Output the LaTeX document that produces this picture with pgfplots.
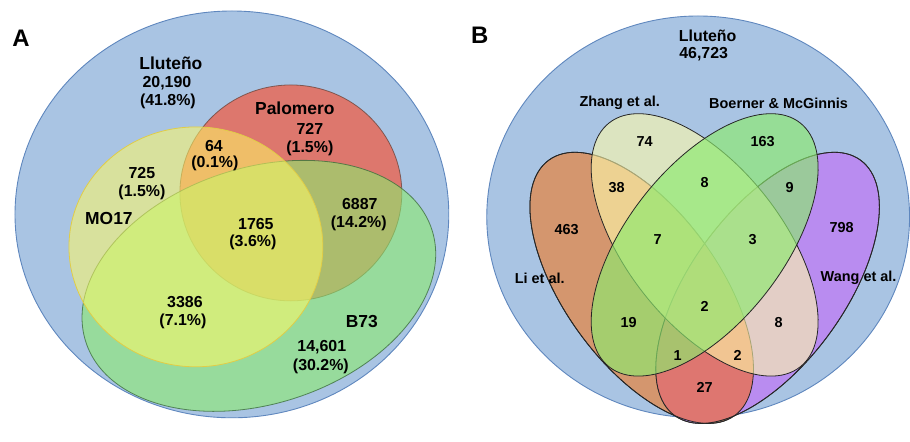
\documentclass[border=0pt]{standalone}
\usepackage{pgfplots}
\pgfplotsset{compat=1.18}
\usepackage{pgfplotstable}
\usepackage{fontspec}
\setmainfont{Liberation Sans}
\definecolor{bgblue}{RGB}{169,196,227}
\definecolor{bgline}{RGB}{95,135,190}
\definecolor{palred}{RGB}{235,100,80}
\definecolor{palline}{RGB}{110,70,60}
\definecolor{bgreen}{RGB}{140,235,110}
\definecolor{bgreenline}{RGB}{60,110,60}
\definecolor{myellow}{RGB}{255,250,100}
\definecolor{myellowline}{RGB}{225,205,70}
\definecolor{liorange}{RGB}{212,150,110}
\definecolor{wangpurple}{RGB}{185,140,240}
\definecolor{liwangred}{RGB}{222,118,112}
\definecolor{zhangpale}{RGB}{255,250,170}
\definecolor{boerngreen}{RGB}{140,235,110}

\pgfplotstableread[col sep=semicolon]{
x;y;label
171;358;Lluteño
295;313;Palomero
109;202;MO17
362;99;B73
}\Anames
\pgfplotstableread[col sep=semicolon]{
x;y;label
167;338;20,190
168;320;(41.8\%)
310;292;727
310;273;(1.5\%)
214;275;64
215;258;(0.1\%)
142;248;725
142;229;(1.5\%)
256;197;1765
253;178;(3.6\%)
360;217;6887
359;198;(14.2\%)
185;119;3386
183;99;(7.1\%)
322;74;14,601
321;54;(30.2\%)
}\Anums
\pgfplotstableread[col sep=semicolon]{
x;y;label
708;385;Lluteño
704;367;46,723
}\Btop
\pgfplotstableread[col sep=semicolon]{
x;y;label
620;318;Zhang et al.
779;318;Boerner \& McGinnis
540;143;Li et al.
859;143;Wang et al.
}\Bnames
\pgfplotstableread[col sep=semicolon]{
x;y;label
645;279;74
763;279;163
617;233;38
705;238;8
790;233;9
567;191;463
658;181;7
753;181;3
842;193;798
705;114;2
629;98;19
779;98;8
678;65;1
738;65;2
705;33;27
}\Bnums
\pgfplotstableread[col sep=semicolon]{
x;y;label
21;383;A
480;386;B
}\Panels

\begin{document}
\begin{tikzpicture}
\begin{axis}[
  width=910bp, height=421bp, scale only axis,
  xmin=0, xmax=910, ymin=0, ymax=421,
  hide axis, clip=false,
  every node near coord/.append style={anchor=center, inner sep=0pt, text=black},
]
\path (rel axis cs:0,0) rectangle (rel axis cs:1,1);
% ---------- Panel A ----------
\filldraw[fill=bgblue, draw=bgline, line width=0.9bp] (axis cs:232,206.5) ellipse [x radius=217, y radius=203.5];
\filldraw[fill=palred, fill opacity=0.8, draw=palline, draw opacity=0.8, line width=0.8bp] (axis cs:291,228) ellipse [x radius=111, y radius=108];
\filldraw[fill=bgreen, fill opacity=0.6, draw=bgreenline, draw opacity=0.8, line width=0.8bp] (axis cs:259,135) ellipse [x radius=182, y radius=118, rotate=18];
\filldraw[fill=myellow, fill opacity=0.55, draw=myellowline, line width=0.8bp] (axis cs:196,174) ellipse [x radius=127, y radius=120];
% ---------- Panel B ----------
\filldraw[fill=bgblue, draw=bgline, line width=0.9bp] (axis cs:698.5,204) ellipse [x radius=211.5, y radius=201];
\filldraw[fill=liorange, draw=black!85, line width=0.8bp] (axis cs:642,133) ellipse [x radius=158, y radius=77, rotate=-54];
\filldraw[fill=wangpurple, draw=black!85, line width=0.8bp] (axis cs:768,133) ellipse [x radius=158, y radius=77, rotate=54];
\begin{scope}
  \clip (axis cs:642,133) ellipse [x radius=158, y radius=77, rotate=-54];
  \fill[liwangred] (axis cs:768,133) ellipse [x radius=158, y radius=77, rotate=54];
\end{scope}
\draw[black!85, line width=0.8bp] (axis cs:642,133) ellipse [x radius=158, y radius=77, rotate=-54];
\draw[black!85, line width=0.8bp] (axis cs:768,133) ellipse [x radius=158, y radius=77, rotate=54];
\filldraw[fill=zhangpale, fill opacity=0.6, draw=black!85, line width=0.8bp] (axis cs:705,176) ellipse [x radius=155, y radius=78, rotate=-52];
\filldraw[fill=boerngreen, fill opacity=0.65, draw=black!85, line width=0.8bp] (axis cs:705,176) ellipse [x radius=155, y radius=78, rotate=52];
% ---------- Labels ----------
\addplot[draw=none, mark=none, nodes near coords, point meta=explicit symbolic,
  every node near coord/.append style={font=\fontsize{17.5}{20}\selectfont\bfseries}]
  table[x=x, y=y, meta=label] {\Anames};
\addplot[draw=none, mark=none, nodes near coords, point meta=explicit symbolic,
  every node near coord/.append style={font=\fontsize{16}{19}\selectfont\bfseries}]
  table[x=x, y=y, meta=label] {\Anums};
\addplot[draw=none, mark=none, nodes near coords, point meta=explicit symbolic,
  every node near coord/.append style={font=\fontsize{16}{19}\selectfont\bfseries}]
  table[x=x, y=y, meta=label] {\Btop};
\addplot[draw=none, mark=none, nodes near coords, point meta=explicit symbolic,
  every node near coord/.append style={font=\fontsize{14.5}{17}\selectfont\bfseries}]
  table[x=x, y=y, meta=label] {\Bnames};
\addplot[draw=none, mark=none, nodes near coords, point meta=explicit symbolic,
  every node near coord/.append style={font=\fontsize{14.5}{17}\selectfont\bfseries}]
  table[x=x, y=y, meta=label] {\Bnums};
\addplot[draw=none, mark=none, nodes near coords, point meta=explicit symbolic,
  every node near coord/.append style={font=\fontsize{24}{28}\selectfont\bfseries}]
  table[x=x, y=y, meta=label] {\Panels};
\end{axis}
\end{tikzpicture}
\end{document}
